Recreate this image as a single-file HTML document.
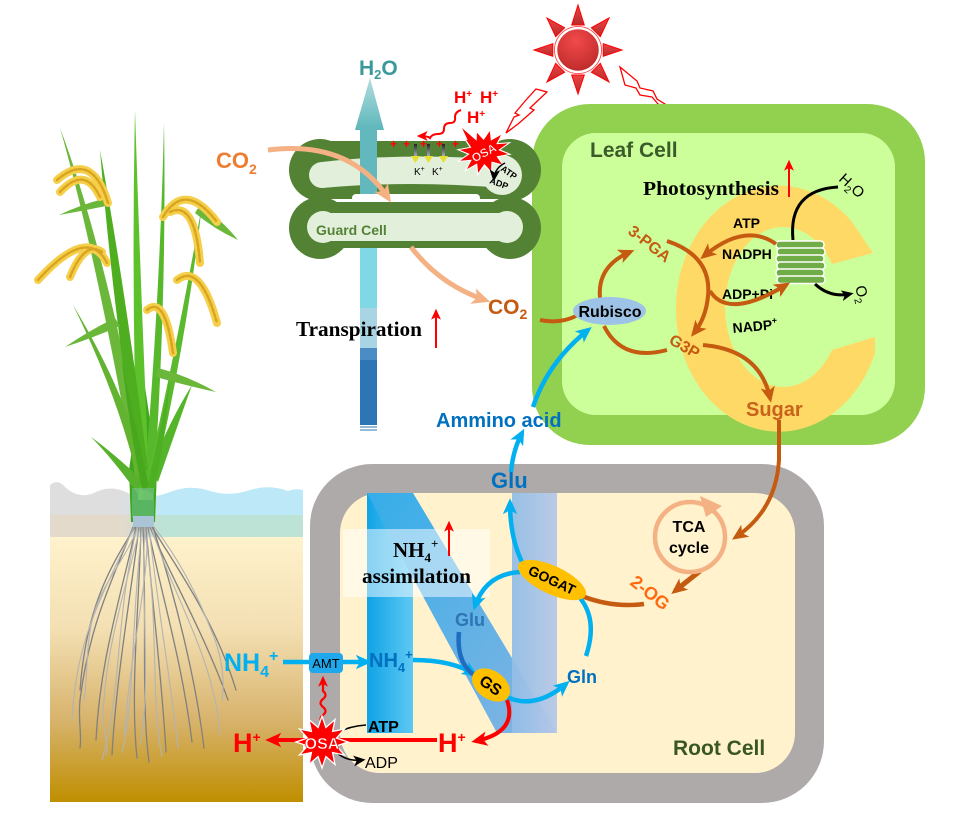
<!DOCTYPE html>
<html><head><meta charset="utf-8"><style>
html,body{margin:0;padding:0;background:#fff;}
svg{display:block;}
.s{font-family:"Liberation Sans",Arial,sans-serif;}
.r{font-family:"Liberation Serif","Times New Roman",serif;font-weight:bold;}
</style></head><body>
<svg width="959" height="840" viewBox="0 0 959 840" xmlns="http://www.w3.org/2000/svg">
<defs>
<marker id="mB" markerUnits="userSpaceOnUse" markerWidth="16" markerHeight="16" viewBox="0 0 10 10" refX="7" refY="5" orient="auto"><path d="M0,0.5 L10,5 L0,9.5 L2.5,5Z" fill="#c55a11"/></marker>
<marker id="mL" markerUnits="userSpaceOnUse" markerWidth="16" markerHeight="16" viewBox="0 0 10 10" refX="7" refY="5" orient="auto"><path d="M0,0.5 L10,5 L0,9.5 L2.5,5Z" fill="#00b0f0"/></marker>
<marker id="mR" markerUnits="userSpaceOnUse" markerWidth="16" markerHeight="16" viewBox="0 0 10 10" refX="7" refY="5" orient="auto"><path d="M0,0.5 L10,5 L0,9.5 L2.5,5Z" fill="#ff0000"/></marker>
<marker id="mK" markerUnits="userSpaceOnUse" markerWidth="12" markerHeight="12" viewBox="0 0 10 10" refX="7" refY="5" orient="auto"><path d="M0,0.5 L10,5 L0,9.5 L2.5,5Z" fill="#000"/></marker>
<marker id="mP" markerUnits="userSpaceOnUse" markerWidth="18" markerHeight="18" viewBox="0 0 10 10" refX="7" refY="5" orient="auto"><path d="M0,0.5 L10,5 L0,9.5 L2.5,5Z" fill="#f4b183"/></marker>
<marker id="mRs" markerUnits="userSpaceOnUse" markerWidth="11" markerHeight="11" viewBox="0 0 10 10" refX="7" refY="5" orient="auto"><path d="M0,0.5 L10,5 L0,9.5 L2.5,5Z" fill="#ff0000"/></marker>
<linearGradient id="soil" x1="0" y1="0" x2="0" y2="1"><stop offset="0" stop-color="#fff2cc"/><stop offset="0.35" stop-color="#f3dfb2"/><stop offset="0.7" stop-color="#d7b26a"/><stop offset="1" stop-color="#bf8f00"/></linearGradient>
<linearGradient id="water" x1="0" y1="0" x2="1" y2="0"><stop offset="0" stop-color="#dedede"/><stop offset="0.28" stop-color="#dedede"/><stop offset="0.45" stop-color="#bde8f7"/><stop offset="1" stop-color="#bde8f7"/></linearGradient>
<linearGradient id="band" x1="0" y1="0" x2="1" y2="0"><stop offset="0" stop-color="#e3dacc"/><stop offset="0.28" stop-color="#e3dacc"/><stop offset="0.45" stop-color="#bde2d6"/><stop offset="1" stop-color="#bde2d6"/></linearGradient>
<linearGradient id="nl" x1="0" y1="0" x2="1" y2="0"><stop offset="0" stop-color="#10a3e6"/><stop offset="1" stop-color="#5ec8f3"/></linearGradient>
<linearGradient id="nd" x1="0" y1="0" x2="1" y2="1"><stop offset="0" stop-color="#35aee9"/><stop offset="1" stop-color="#86b4e2"/></linearGradient>
<linearGradient id="nr" x1="0" y1="0" x2="1" y2="0"><stop offset="0" stop-color="#92bde6"/><stop offset="1" stop-color="#b6c8e8"/></linearGradient>
<radialGradient id="sun" cx="0.45" cy="0.3" r="0.8"><stop offset="0" stop-color="#f24a4a"/><stop offset="1" stop-color="#b82626"/></radialGradient>
<linearGradient id="ray" x1="0" y1="0" x2="0" y2="1"><stop offset="0" stop-color="#ee4444"/><stop offset="1" stop-color="#b52b2b"/></linearGradient>
<linearGradient id="head" x1="0" y1="0" x2="0" y2="1"><stop offset="0" stop-color="#b1dde0"/><stop offset="1" stop-color="#5db6ba"/></linearGradient>
<linearGradient id="kar" x1="0" y1="0" x2="0" y2="1"><stop offset="0" stop-color="#222"/><stop offset="1" stop-color="#aab"/></linearGradient>
<polygon id="star" points="26,0 14.5,3.9 22.5,13 10.6,10.6 13,22.5 3.9,14.5 0,26 -3.9,14.5 -13,22.5 -10.6,10.6 -22.5,13 -14.5,3.9 -26,0 -14.5,-3.9 -22.5,-13 -10.6,-10.6 -13,-22.5 -3.9,-14.5 0,-26 3.9,-14.5 13,-22.5 10.6,-10.6 22.5,-13 14.5,-3.9"/>
</defs>

<!-- ===== soil & water ===== -->
<rect x="50" y="537" width="253" height="265" fill="url(#soil)"/>
<path d="M50,485 Q58,478 66,488 Q80,500 96,492 Q112,484 130,494 Q150,500 170,492 Q190,484 210,491 Q230,497 250,490 Q270,484 288,491 Q296,488 303,490 L303,515 L50,515 Z" fill="url(#water)"/>
<rect x="50" y="515" width="253" height="22" fill="url(#band)"/>

<!-- roots -->
<g fill="none" stroke-linecap="round">
<g stroke="#808080" stroke-width="1.3">
<path d="M133,527 C115,575 90,620 80,700 C78,720 82,735 80,748"/>
<path d="M136,527 C120,600 100,660 96,740"/>
<path d="M139,527 C130,600 116,680 112,755"/>
<path d="M141,527 C139,610 130,690 137,758"/>
<path d="M143,527 C147,620 141,700 149,762"/>
<path d="M146,527 C152,600 162,680 166,752"/>
<path d="M148,527 C160,590 182,660 192,742"/>
<path d="M150,527 C170,575 205,635 228,700"/>
<path d="M152,527 C175,565 215,620 236,690"/>
<path d="M135,527 C108,570 86,610 80,690"/>
<path d="M153,527 C176,600 196,680 204,748"/>
</g>
<g stroke="#b3b3b3" stroke-width="1.1">
<path d="M137,527 C115,620 122,690 102,760"/>
<path d="M140,527 C128,580 108,640 104,700 C100,730 110,745 106,755"/>
<path d="M145,527 C140,600 152,680 140,745"/>
<path d="M149,527 C158,610 172,690 178,748"/>
<path d="M151,527 C175,600 215,660 220,735"/>
<path d="M134,527 C100,600 76,640 72,720"/>
<path d="M147,527 C150,580 128,660 125,735"/>
<path d="M154,527 C180,560 200,600 215,640 C222,660 225,680 222,700"/>
<path d="M138,527 C125,560 105,580 95,610 C85,640 88,680 84,700"/>
<path d="M144,527 C160,620 150,700 162,756"/>
<path d="M142,527 C130,640 135,700 122,752"/>
</g>
</g>

<!-- ===== rice plant ===== -->
<g>
<path d="M131,522 L129,470 Q136,420 144,380 Q150,420 157,470 L155,522 Z" fill="#3ea61c"/>
<path d="M138,500 Q131,300 135,110 Q141,300 150,500 Z" fill="#5cc12a"/>
<path d="M143,500 Q160,300 164,123 Q167,300 153,500 Z" fill="#58b82b"/>
<path d="M136,480 Q95,250 60,128 Q106,250 146,470 Z" fill="#6ab73a"/>
<path d="M138,470 Q112,300 100,150 Q127,300 148,470 Z" fill="#4fae20"/>
<path d="M149,470 Q180,330 202,205 Q188,330 157,470 Z" fill="#5bb92e"/>
<path d="M200,205 Q222,220 238,240 Q214,229 195,213 Z" fill="#6cb83b"/>
<path d="M138,482 Q120,400 73,305 Q130,400 148,482 Z" fill="#62b330"/>
<path d="M115,318 Q90,330 65,347 Q95,337 120,326 Z" fill="#6ab73a"/>
<path d="M103,199 Q80,205 59,215 Q82,211 106,206 Z" fill="#6ab73a"/>
<path d="M158,368 Q188,376 216,392 Q188,386 156,377 Z" fill="#6ab73a"/>
<path d="M142,480 Q112,452 91,437 Q112,458 138,494 Z" fill="#58b12c"/>
<path d="M150,470 Q170,420 192,385 Q176,430 158,482 Z" fill="#55b52a"/>
<path d="M142,490 Q128,420 122,360 Q134,420 150,490 Z" fill="#47a81d"/>
<path d="M147,490 Q160,430 170,380 Q165,440 154,495 Z" fill="#4cb022"/>
</g>
<!-- panicles -->
<g fill="none" stroke-linecap="round">
<g stroke="#f5cf4a" stroke-width="8">
<path d="M108,203 Q92,150 57,180"/>
<path d="M100,197 Q85,165 60,192"/>
<path d="M107,263 Q88,225 38,280"/>
<path d="M102,252 Q85,240 70,277"/>
<path d="M163,217 Q185,180 217,222"/>
<path d="M170,212 Q195,200 200,263"/>
<path d="M177,280 Q200,262 217,323"/>
<path d="M147,310 Q165,295 173,353"/>
</g>
<g stroke="#d9a520" stroke-width="2.5" stroke-dasharray="3 2">
<path d="M108,203 Q92,150 57,180"/>
<path d="M100,197 Q85,165 60,192"/>
<path d="M107,263 Q88,225 38,280"/>
<path d="M102,252 Q85,240 70,277"/>
<path d="M163,217 Q185,180 217,222"/>
<path d="M170,212 Q195,200 200,263"/>
<path d="M177,280 Q200,262 217,323"/>
<path d="M147,310 Q165,295 173,353"/>
</g>
</g>
<rect x="132" y="488" width="22" height="30" fill="#8fd0e6" opacity="0.35"/>
<rect x="133" y="516" width="21" height="11" fill="#a9c4d6"/>

<!-- ===== sun ===== -->
<g fill="url(#ray)" stroke="#ff0000" stroke-width="1">
<polygon points="578,5 571.7,25 584.3,25"/>
<polygon points="609,18 591.4,27.7 600.3,36.6"/>
<polygon points="622,50 603.2,43.7 603.2,56.3"/>
<polygon points="609,82 600.3,63.4 591.4,72.3"/>
<polygon points="578,94 584.3,75 571.7,75"/>
<polygon points="547,82 564.6,72.3 555.7,63.4"/>
<polygon points="534,50 552.8,56.3 552.8,43.7"/>
<polygon points="547,18 555.7,36.6 564.6,27.7"/>
</g>
<circle cx="578" cy="50" r="22" fill="url(#sun)" stroke="#fff" stroke-width="2.5"/>
<circle cx="578" cy="50" r="23.5" fill="none" stroke="#ff3030" stroke-width="0.8"/>
<polygon points="536,89 547,92 530,108 534,110 518,124 506,133 514,117 519,115 515,113 526,100" fill="#fff" stroke="#ff0000" stroke-width="1.3"/>
<polygon points="620,67 637,81 640,88 653,91 657,99 681,114 658,104 652,97 640,95 636,88 625,85" fill="#fff" stroke="#ff0000" stroke-width="1.3"/>

<!-- ===== leaf cell ===== -->
<rect x="532" y="104" width="393" height="341" rx="58" fill="#92d050"/>
<rect x="562" y="133" width="333" height="282" rx="34" fill="#ccff99"/>
<path d="M873,253 L852,222 A103 123 0 1 0 875,353 L875,337 L832,350 A58 80 0 1 1 832,264 Z" fill="#ffd966"/>

<!-- ===== guard cell ===== -->
<g fill="#548235">
<circle cx="320" cy="170" r="31"/><circle cx="510" cy="170" r="31"/>
<rect x="320" y="141" width="190" height="58"/>
</g>
<g fill="#e2efda">
<circle cx="322" cy="175" r="13"/><circle cx="502" cy="175" r="20"/>
<path d="M322,162 Q410,152 502,160 L502,188 Q410,180 322,188 Z"/>
</g>
<!-- water column -->
<polygon points="355,130 384,130 370,78" fill="url(#head)"/>
<rect x="360" y="129" width="17" height="75" fill="#62b8bd"/>
<g fill="#548235">
<circle cx="320" cy="228" r="31"/><circle cx="510" cy="228" r="31"/>
<rect x="320" y="202" width="190" height="46"/>
</g>
<rect x="352" y="194" width="128" height="8" rx="4" fill="#fff"/>
<g fill="#e2efda">
<circle cx="323" cy="227" r="16"/><circle cx="507" cy="227" r="16"/>
<rect x="323" y="213" width="184" height="28"/>
</g>
<rect x="360" y="248" width="17" height="60" fill="#80d8e4"/>
<rect x="360" y="308" width="17" height="40" fill="#a9d4e4"/>
<rect x="360" y="348" width="17" height="77" fill="#2e75b6"/>
<rect x="360" y="348" width="17" height="12" fill="#4a8cc4"/>
<line x1="360" y1="427" x2="377" y2="427" stroke="#2e75b6" stroke-width="1"/>
<line x1="360" y1="430" x2="377" y2="430" stroke="#2e75b6" stroke-width="1"/>

<!-- peach CO2 arrows -->
<path d="M268,150 Q350,140 388,198" fill="none" stroke="#f4b183" stroke-width="5" marker-end="url(#mP)"/>
<path d="M411,247 Q440,285 485,300" fill="none" stroke="#f4b183" stroke-width="5" marker-end="url(#mP)"/>

<!-- K+ channel bits -->
<g class="s" fill="#ff0000" font-size="12" font-weight="bold">
<text x="390" y="148">+</text><text x="403" y="148">+</text><text x="420" y="148">+</text><text x="436" y="148">+</text><text x="452" y="148">+</text>
</g>
<g>
<rect x="414" y="144" width="3" height="12" fill="url(#kar)"/><polygon points="411,156 420,156 415.5,163" fill="#e8e030"/>
<rect x="427" y="144" width="3" height="12" fill="url(#kar)"/><polygon points="424,156 433,156 428.5,163" fill="#e8e030"/>
<rect x="442" y="144" width="3" height="12" fill="url(#kar)"/><polygon points="439,156 448,156 443.5,163" fill="#e8e030"/>
</g>
<text class="s" x="414" y="175" font-size="10" fill="#000">K<tspan font-size="7" dy="-4">+</tspan></text>
<text class="s" x="432" y="175" dy="0" font-size="10" fill="#000">K<tspan font-size="7" dy="-4">+</tspan></text>
<path d="M461,110 q-6,2 -6,7 q1,6 -5,6 q-6,0 -6,6 q0,5 -6,5 q-6,0 -8,4 q-2,-2 -10,-2" fill="none" stroke="#ff0000" stroke-width="2" marker-end="url(#mRs)"/>
<g class="s" fill="#ff0000" font-size="17" font-weight="bold">
<text x="454" y="103">H<tspan font-size="10" dy="-6">+</tspan></text>
<text x="480" y="103">H<tspan font-size="10" dy="-6">+</tspan></text>
<text x="467" y="123">H<tspan font-size="10" dy="-6">+</tspan></text>
</g>
<!-- top OSA -->
<g transform="translate(484,152) rotate(-20) scale(1.05,0.85)"><use href="#star" fill="#ff0000" stroke="#fff" stroke-width="1.2"/></g>
<polygon points="470,145 462,128 478,142" fill="#ff0000"/>
<text class="s" x="484" y="157" font-size="12" font-weight="bold" fill="#fff" stroke="#ff0000" stroke-width="0.4" text-anchor="middle" transform="rotate(-28 484 153)">OSA</text>
<path d="M505,163 Q495,168 494,178" fill="none" stroke="#000" stroke-width="1.5" marker-end="url(#mK)"/>
<text class="s" x="500" y="170" font-size="9" font-weight="bold" fill="#000" transform="rotate(35 500 170)">ATP</text>
<text class="s" x="489" y="183" font-size="9" font-weight="bold" fill="#000" transform="rotate(20 489 183)">ADP</text>

<!-- ===== leaf cell contents ===== -->
<text class="s" x="590" y="157" font-size="21" font-weight="bold" fill="#3b5b2b">Leaf Cell</text>
<text class="r" x="643" y="195" font-size="20" fill="#000" textLength="136" lengthAdjust="spacingAndGlyphs">Photosynthesis</text>
<line x1="789" y1="197" x2="789" y2="163" stroke="#ff0000" stroke-width="2" marker-end="url(#mRs)"/>
<!-- thylakoid -->
<g fill="#70ad47" stroke="#fff" stroke-width="1.5">
<rect x="776" y="241" width="48" height="7.5" rx="3.5"/>
<rect x="777" y="248" width="48" height="7.5" rx="3.5"/>
<rect x="776" y="255" width="48" height="7.5" rx="3.5"/>
<rect x="777" y="262" width="48" height="7.5" rx="3.5"/>
<rect x="776" y="269" width="48" height="7.5" rx="3.5"/>
<rect x="777" y="276" width="48" height="7.5" rx="3.5"/>
</g>
<path d="M793,240 Q788,190 838,187" fill="none" stroke="#000" stroke-width="3"/>
<path d="M815,284 Q830,298 850,294" fill="none" stroke="#000" stroke-width="3" marker-end="url(#mK)"/>
<text class="s" x="838" y="180" font-size="15" fill="#000" transform="rotate(42 838 180)">H<tspan font-size="10" dy="4">2</tspan><tspan dy="-4">O</tspan></text>
<text class="s" x="855" y="287" font-size="15" fill="#000" transform="rotate(75 855 287)">O<tspan font-size="10" dy="4">2</tspan></text>
<g class="s" font-size="14" font-weight="bold" fill="#000">
<text x="733" y="228">ATP</text>
<text x="722" y="259">NADPH</text>
<text x="722" y="299">ADP+Pi</text>
<text x="733" y="333" transform="rotate(-5 733 333)">NADP<tspan font-size="9" dy="-6">+</tspan></text>
</g>
<!-- Calvin cycle -->
<g fill="none" stroke="#c55a11" stroke-width="4">
<path d="M776,244 Q745,222 704,256" marker-end="url(#mB)"/>
<path d="M710,291 Q728,320 786,285" marker-end="url(#mB)"/>
<path d="M600,298 Q597,266 630,252" marker-end="url(#mB)"/>
<path d="M667,241 Q712,256 708,296 Q706,318 694,333" marker-end="url(#mB)"/>
<path d="M667,350 Q622,362 604,326"/>
<path d="M703,345 Q760,350 770,398" marker-end="url(#mB)"/>
<path d="M540,320 Q560,324 576,316"/>
</g>
<ellipse cx="609.5" cy="311" rx="36.5" ry="14" fill="#9dc3e6"/>
<text class="s" x="610" y="317" font-size="16" font-weight="bold" fill="#000" text-anchor="middle">Rubisco</text>
<text class="s" x="627" y="233" font-size="16" font-weight="bold" fill="#c55a11" transform="rotate(38 627 233)">3-PGA</text>
<text class="s" x="668" y="343" font-size="16" font-weight="bold" fill="#c55a11" transform="rotate(30 668 343)">G3P</text>
<text class="s" x="746" y="416" font-size="20" font-weight="bold" fill="#c9621a">Sugar</text>
<text class="s" x="488" y="314" font-size="21" font-weight="bold" fill="#c55a11">CO<tspan font-size="14" dy="5">2</tspan></text>
<text class="s" x="216" y="168" font-size="22" font-weight="bold" fill="#ed7d31">CO<tspan font-size="14" dy="6">2</tspan></text>
<text class="s" x="359" y="75" font-size="21" font-weight="bold" fill="#3a9a9a">H<tspan font-size="13" dy="4">2</tspan><tspan dy="-4">O</tspan></text>
<text class="s" x="316" y="235" font-size="14" font-weight="bold" fill="#548235">Guard Cell</text>
<text class="r" x="296" y="336" font-size="21" fill="#000" textLength="126" lengthAdjust="spacingAndGlyphs">Transpiration</text>
<line x1="436" y1="348" x2="436" y2="312" stroke="#ff0000" stroke-width="2" marker-end="url(#mRs)"/>

<!-- ===== root cell ===== -->
<rect x="310" y="464" width="514" height="339" rx="62" fill="#aeaaaa"/>
<rect x="340" y="493" width="455" height="280" rx="40" fill="#fff2cc"/>
<rect x="367" y="493" width="46" height="240" fill="url(#nl)"/>
<polygon points="367,493 413,493 557,733 497,733" fill="url(#nd)"/>
<rect x="512" y="493" width="45" height="240" fill="url(#nr)" opacity="0.95"/>
<rect x="343" y="529" width="147" height="68" fill="#fff" opacity="0.5"/>
<text class="r" x="393" y="557" font-size="21" fill="#000">NH<tspan font-size="13" dy="5">4</tspan><tspan font-size="13" dy="-14">+</tspan></text>
<text class="r" x="362" y="583" font-size="21" fill="#000" textLength="109" lengthAdjust="spacingAndGlyphs">assimilation</text>
<line x1="449" y1="556" x2="449" y2="524" stroke="#ff0000" stroke-width="2" marker-end="url(#mRs)"/>

<!-- sugar to TCA -->
<g fill="none" stroke="#c55a11" stroke-width="4">
<path d="M779,420 L779,460 Q776,510 736,537" marker-end="url(#mB)"/>
<path d="M700,571 L675,591" stroke-width="5" marker-end="url(#mB)"/>
</g>

<!-- TCA -->
<circle cx="690" cy="537" r="35" fill="none" stroke="#f4b183" stroke-width="4.5"/>
<polygon points="700,496 722,506 706,517" fill="#f4b183"/>
<text class="s" x="689" y="532" font-size="16" font-weight="bold" fill="#000" text-anchor="middle">TCA</text>
<text class="s" x="689" y="553" font-size="16" font-weight="bold" fill="#000" text-anchor="middle">cycle</text>
<path d="M582,596 Q612,608 644,604" fill="none" stroke="#c55a11" stroke-width="4.5"/>
<text class="s" x="629" y="584" font-size="18" font-weight="bold" fill="#ff6a10" transform="rotate(38 629 584)">2-OG</text>

<!-- blue arrows -->
<g fill="none" stroke="#00b0f0" stroke-width="4.5">
<path d="M533,407 Q548,362 588,330" marker-end="url(#mL)"/>
<path d="M511,472 Q513,450 522,433" marker-end="url(#mL)"/>
<path d="M524,566 Q510,540 510,503" marker-end="url(#mL)"/>
<path d="M520,572 Q486,574 475,606" marker-end="url(#mL)"/>
<path d="M507,697 Q535,710 566,684" marker-end="url(#mL)"/>
<path d="M586,656 Q598,620 580,598"/>
<path d="M413,660 Q452,660 474,674" marker-end="url(#mL)"/>
<path d="M283,662 L310,662"/>
<path d="M343,662 L367,662" marker-end="url(#mL)"/>
</g>
<path d="M459,632 Q456,662 474,675" fill="none" stroke="#1f6cc0" stroke-width="4.5"/>
<g transform="translate(552,580) rotate(25)"><ellipse rx="37" ry="14" fill="#ffc000"/><text class="s" y="5" font-size="14" font-weight="bold" text-anchor="middle" fill="#000">GOGAT</text></g>
<g transform="translate(491,685) rotate(35)"><ellipse rx="21" ry="14" fill="#ffc000"/><text class="s" y="6" font-size="16" font-weight="bold" text-anchor="middle" fill="#000">GS</text></g>
<rect x="309" y="653" width="34" height="20" rx="4" fill="#1fa9ec"/>
<text class="s" x="326" y="668" font-size="13" fill="#000" text-anchor="middle">AMT</text>

<text class="s" x="436" y="427" font-size="20" font-weight="bold" fill="#0070c0">Ammino acid</text>
<text class="s" x="491" y="488" font-size="22" font-weight="bold" fill="#0070c0">Glu</text>
<text class="s" x="455" y="626" font-size="18" font-weight="bold" fill="#2e75b6">Glu</text>
<text class="s" x="567" y="683" font-size="18" font-weight="bold" fill="#0070c0">Gln</text>
<text class="s" x="224" y="671" font-size="25" fill="#00b0f0" font-weight="bold">NH<tspan font-size="16" dy="6">4</tspan><tspan font-size="16" dy="-16">+</tspan></text>
<text class="s" x="369" y="667" font-size="20" fill="#0070c0" font-weight="bold">NH<tspan font-size="13" dy="5">4</tspan><tspan font-size="13" dy="-13">+</tspan></text>

<!-- red bottom -->
<path d="M507,700 Q518,732 476,741" fill="none" stroke="#ff0000" stroke-width="4" marker-end="url(#mR)"/>
<path d="M437,740 L270,740" fill="none" stroke="#ff0000" stroke-width="4" marker-end="url(#mR)"/>
<path d="M323,722 q-5,-3 0,-7 q5,-4 0,-8 q-5,-4 0,-8 q5,-4 0,-8 L323,679" fill="none" stroke="#ff0000" stroke-width="2.2" marker-end="url(#mRs)"/>
<path d="M336,733 Q350,726 366,725" fill="none" stroke="#000" stroke-width="1.5"/>
<path d="M334,750 Q345,762 362,760" fill="none" stroke="#000" stroke-width="1.5" marker-end="url(#mK)"/>
<g transform="translate(322,742)"><use href="#star" fill="#ff0000" stroke="#fff" stroke-width="1.3"/></g>
<text class="s" x="322" y="749" font-size="16" font-weight="bold" fill="#fff" stroke="#ff0000" stroke-width="0.5" text-anchor="middle">OSA</text>
<text class="s" x="368" y="732" font-size="16" font-weight="bold" fill="#000">ATP</text>
<text class="s" x="365" y="768" font-size="16" fill="#000">ADP</text>
<text class="s" x="438" y="752" font-size="27" font-weight="bold" fill="#ff0000">H<tspan font-size="14" dy="-10">+</tspan></text>
<text class="s" x="233" y="752" font-size="27" font-weight="bold" fill="#ff0000">H<tspan font-size="14" dy="-10">+</tspan></text>
<text class="s" x="673" y="755" font-size="21" font-weight="bold" fill="#385723">Root Cell</text>
</svg>
</body></html>
